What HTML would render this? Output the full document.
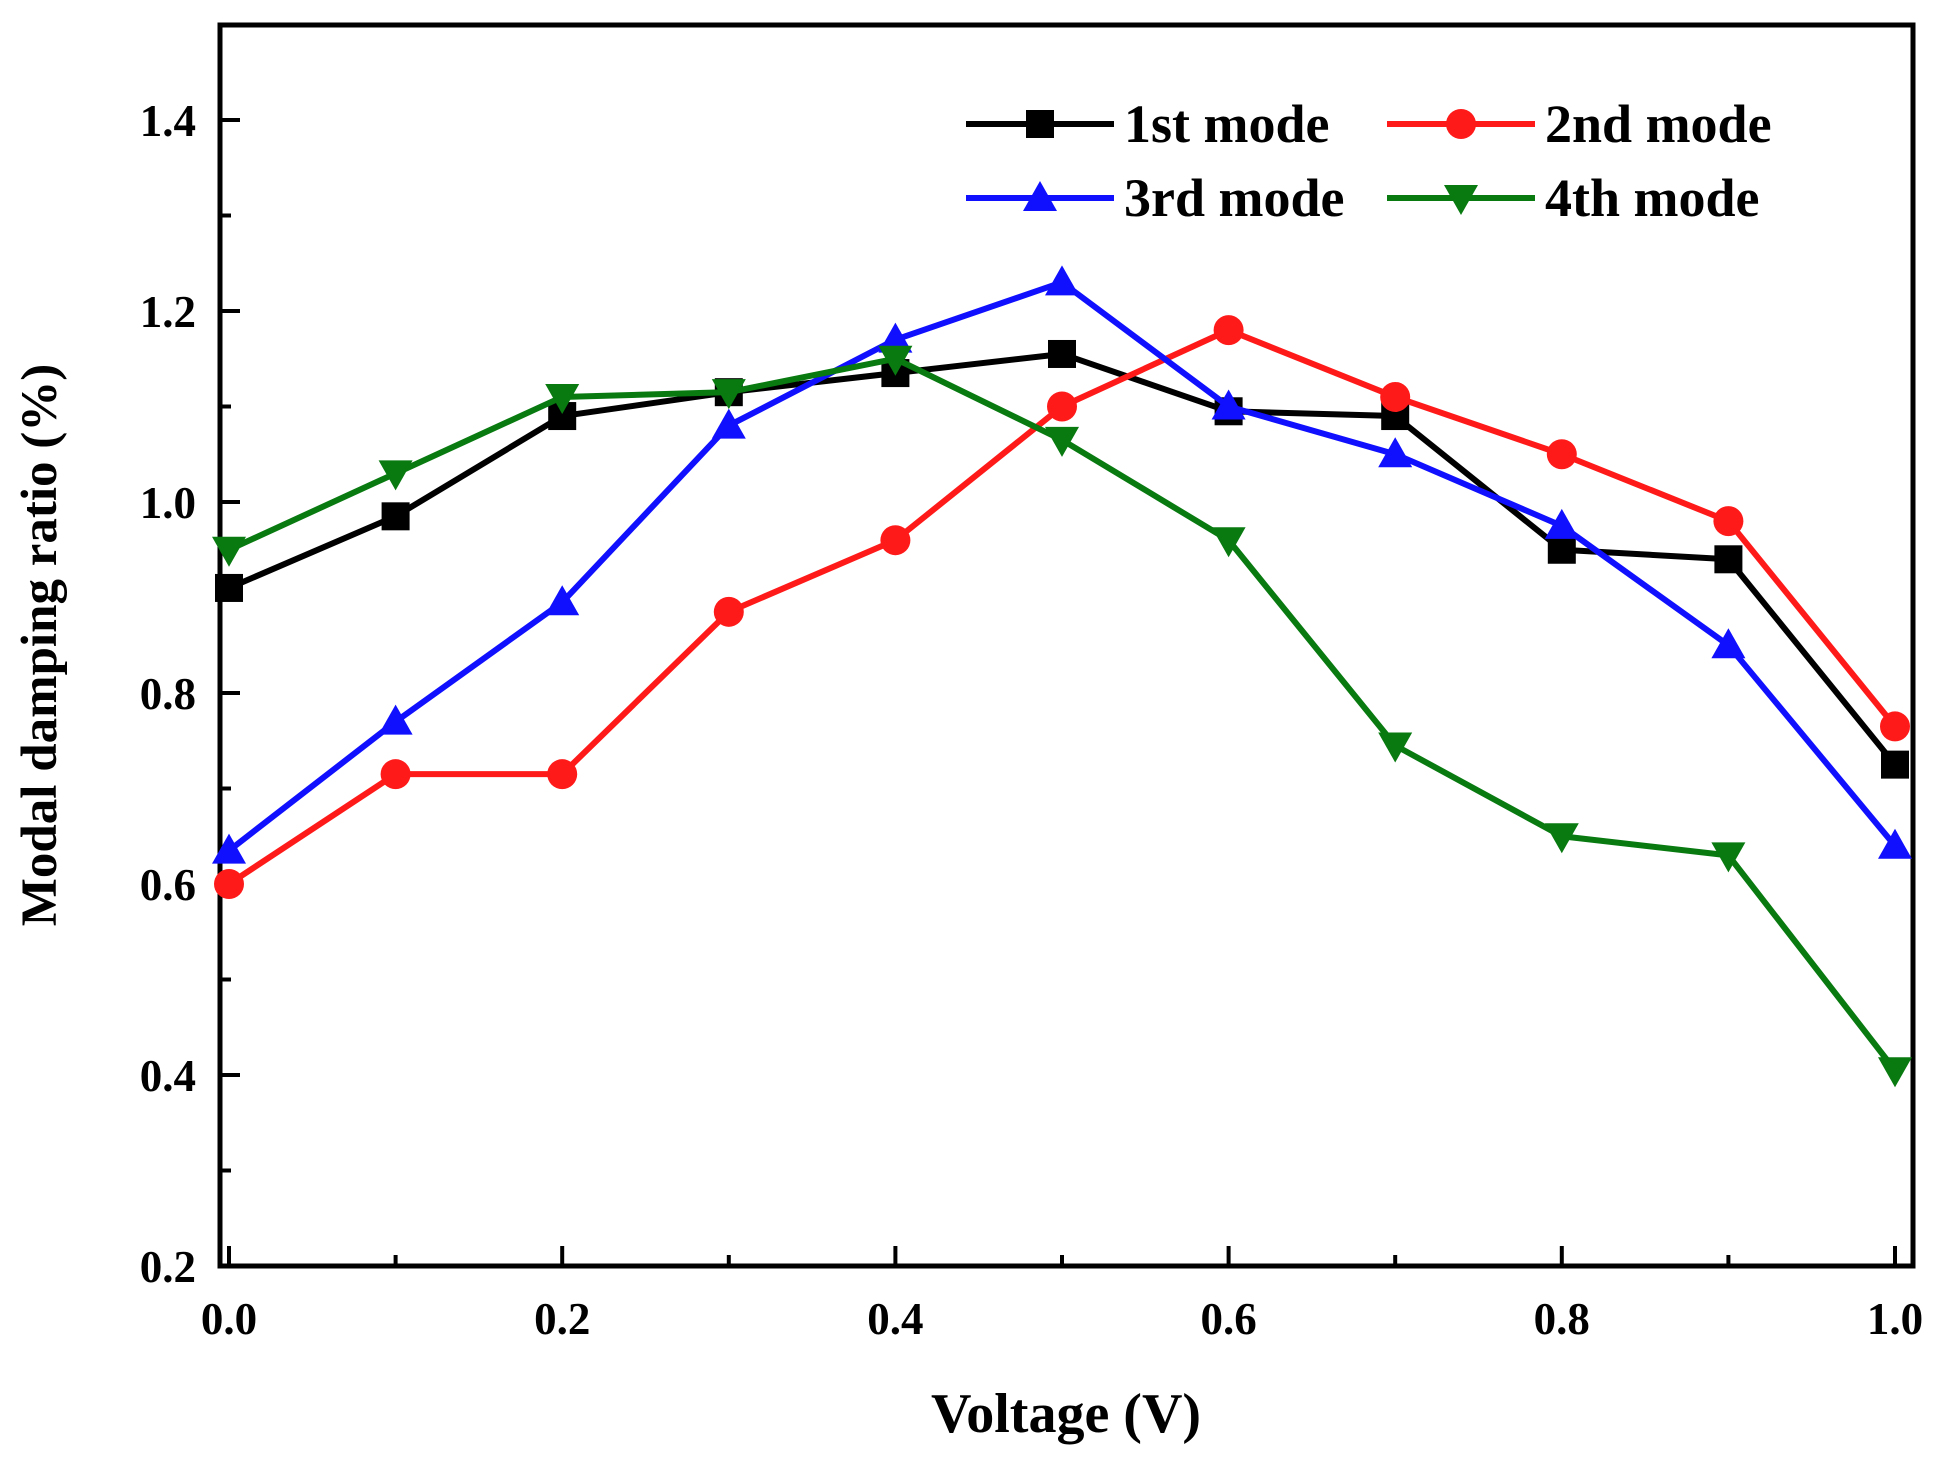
<!DOCTYPE html>
<html><head><meta charset="utf-8"><style>
html,body{margin:0;padding:0;background:#fff;}
svg{display:block;font-family:"Liberation Serif",serif;font-weight:bold;}
</style></head><body>
<svg id="chart" width="1942" height="1470" viewBox="0 0 1942 1470" xmlns="http://www.w3.org/2000/svg">
<g id="axes"></g>
<g id="series"></g>
<g id="legend"></g>
<text x="1066" y="1432" font-size="56" text-anchor="middle">Voltage (V)</text>
<text transform="translate(56,645) rotate(-90)" font-size="51" text-anchor="middle">Modal damping ratio (%)</text>
</svg>
<script>
const voltages = [0,0.1,0.2,0.3,0.4,0.5,0.6,0.7,0.8,0.9,1.0];
const mode1 = [0.91,0.985,1.09,1.115,1.135,1.155,1.095,1.09,0.95,0.94,0.725];
const mode2 = [0.60,0.715,0.715,0.885,0.96,1.10,1.18,1.11,1.05,0.98,0.765];
const mode3 = [0.635,0.77,0.895,1.08,1.17,1.23,1.10,1.05,0.975,0.85,0.64];
const mode4 = [0.95,1.03,1.11,1.115,1.15,1.065,0.96,0.745,0.65,0.63,0.405];
const seriesNames = ["1st mode","2nd mode","3rd mode","4th mode"];
const xTickLabels = ["0.0","0.2","0.4","0.6","0.8","1.0"];
const yTickLabels = ["0.2","0.4","0.6","0.8","1.0","1.2","1.4"];

const NS="http://www.w3.org/2000/svg";
const L=220,R=1913,T=25,B=1266;
function xs(v){return 229+(1895-229)*v;}
function ys(v){return 1266-(v-0.2)*(1266-120)/1.2;}
function mk(tag,attrs,parent){const e=document.createElementNS(NS,tag);for(const k in attrs)e.setAttribute(k,attrs[k]);parent.appendChild(e);return e;}
const axes=document.getElementById('axes');
const frame=mk('rect',{x:L,y:T,width:R-L,height:B-T,fill:'none',stroke:'#000','stroke-width':5},axes);


for(let i=0;i<=10;i++){
  const v=i/10,x=xs(v),len=i%2===0?20:11;
  const t=mk('line',{x1:x,x2:x,y1:B,y2:B-len,stroke:'#000','stroke-width':4},axes);
  
  
}
xTickLabels.forEach(s=>{
  const tx=mk('text',{x:xs(parseFloat(s)),y:B+68,'font-size':45,'text-anchor':'middle'},axes);
  tx.textContent=s;
  
  
});
for(let i=0;i<=12;i++){
  const v=0.2+i*0.1,y=ys(v),len=i%2===0?20:11;
  const t=mk('line',{x1:L,x2:L+len,y1:y,y2:y,stroke:'#000','stroke-width':4},axes);
  
  
}
yTickLabels.forEach(s=>{
  const tx=mk('text',{x:L-24,y:ys(parseFloat(s))+16,'font-size':45,'text-anchor':'end'},axes);
  tx.textContent=s;
  
  
});

const colors=['#000','#ff1a1a','#1010ff','#087a10'];
const shapes=['square','circle','up','down'];
function marker(g,shape,x,y,c){
  const s=14;let e;
  if(shape==='square')e=mk('rect',{x:x-s,y:y-s,width:2*s,height:2*s,fill:c},g);
  else if(shape==='circle')e=mk('circle',{cx:x,cy:y,r:s+1,fill:c},g);
  else if(shape==='up')e=mk('polygon',{points:`${x},${y-s-3} ${x-s-3},${y+s-1} ${x+s+3},${y+s-1}`,fill:c},g);
  else e=mk('polygon',{points:`${x},${y+s+3} ${x-s-3},${y-s+1} ${x+s+3},${y-s+1}`,fill:c},g);
  return e;
}
const sg=document.getElementById('series');
[mode1,mode2,mode3,mode4].forEach((d,i)=>{
  const g=mk('g',{},sg);
  
  
  const pl=mk('polyline',{points:d.map((v,j)=>xs(voltages[j])+','+ys(v)).join(' '),fill:'none',stroke:colors[i],'stroke-width':6,'stroke-linejoin':'round'},g);
  
  
  d.forEach((v,j)=>{
    const m=marker(g,shapes[i],xs(voltages[j]),ys(v),colors[i]);
    
    
  });
});
const lg=document.getElementById('legend');
const pos=[[966,124],[1387,124],[966,198],[1387,198]];
seriesNames.forEach((n,i)=>{
  const [x,y]=pos[i];
  const g=mk('g',{},lg);
  
  
  mk('line',{x1:x,x2:x+148,y1:y,y2:y,stroke:colors[i],'stroke-width':6},g);
  marker(g,shapes[i],x+74,y,colors[i]);
  const t=mk('text',{x:x+158,y:y+18,'font-size':54},g);
  t.textContent=n;
});
</script>
</body></html>
